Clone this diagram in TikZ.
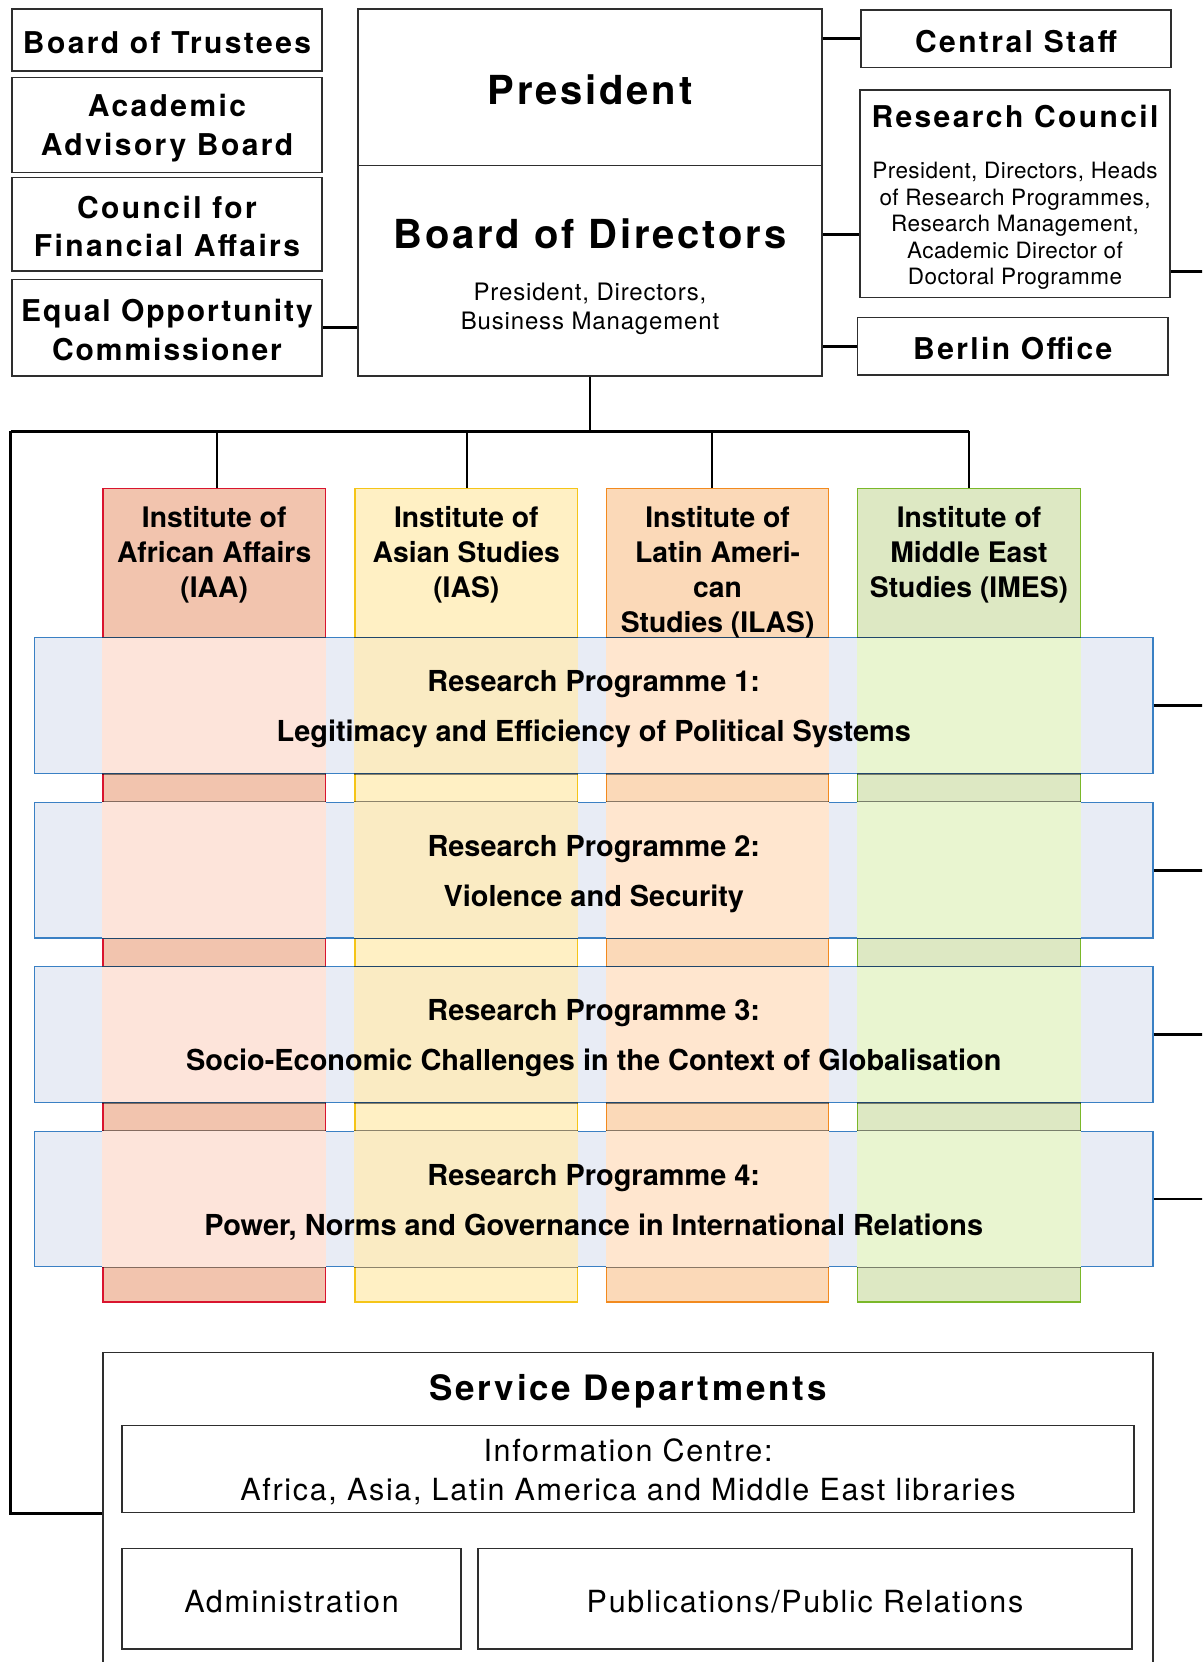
\documentclass[tikz,border=0pt]{standalone}
\usepackage{fontspec}
\setmainfont{TeX Gyre Heros}
\newfontfamily\hdfont[LetterSpace=8]{TeX Gyre Heros}
\newfontfamily\hdBfont[LetterSpace=7]{TeX Gyre Heros}
\newfontfamily\hdEfont[LetterSpace=6.5]{TeX Gyre Heros}
\newfontfamily\ltAfont[LetterSpace=3.5]{TeX Gyre Heros}
\newfontfamily\ltBfont[LetterSpace=2]{TeX Gyre Heros}
\newfontfamily\ltCfont[LetterSpace=5.5]{TeX Gyre Heros}
\usetikzlibrary{calc}
\definecolor{bordergray}{HTML}{2E2E2E}
\definecolor{iaaF}{HTML}{F2C4AE}\definecolor{iaaD}{HTML}{D9142E}\definecolor{iaaL}{HTML}{FDE4DA}
\definecolor{iasF}{HTML}{FFF0C4}\definecolor{iasD}{HTML}{F5C518}\definecolor{iasL}{HTML}{FAEBC3}
\definecolor{ilasF}{HTML}{FBD9B8}\definecolor{ilasD}{HTML}{F28A1E}\definecolor{ilasL}{HTML}{FFE6CF}
\definecolor{imesF}{HTML}{DDE8C3}\definecolor{imesD}{HTML}{7AB829}\definecolor{imesL}{HTML}{E9F5D0}
\definecolor{rpF}{HTML}{E8ECF5}\definecolor{rpD}{HTML}{3A80C4}
\begin{document}
\begin{tikzpicture}[x=1pt,y=-1pt,
  box/.style={draw=bordergray, line width=1.3pt, inner sep=0pt},
  tx/.style={inner sep=0pt, align=center},
  hdA/.style={tx, font=\hdfont\bfseries\fontsize{30pt}{38.5pt}\selectfont},
  hdE/.style={tx, font=\hdEfont\bfseries\fontsize{30pt}{38.5pt}\selectfont},
  hdB/.style={tx, font=\hdBfont\bfseries\fontsize{40pt}{48pt}\selectfont},
  hdC/.style={tx, font=\hdfont\bfseries\fontsize{35pt}{40pt}\selectfont},
  ltA/.style={tx, font=\ltAfont\fontsize{24pt}{29pt}\selectfont},
  ltB/.style={tx, font=\ltBfont\fontsize{22.5pt}{26.5pt}\selectfont},
  ltC/.style={tx, font=\ltCfont\fontsize{30.5pt}{39pt}\selectfont},
  conn/.style={line width=2.6pt, draw=black},
  drop/.style={line width=2pt, draw=black},
  inst/.style={line width=1.2pt, minimum width=222.5pt, minimum height=813.5pt, inner sep=0pt},
  insttext/.style={tx, font=\bfseries\fontsize{28.3pt}{35pt}\selectfont, anchor=north},
  rpbox/.style={draw=rpD, fill=rpF, line width=1.2pt, minimum width=1118.5pt, minimum height=135.6pt, inner sep=0pt},
  rptext/.style={tx, font=\bfseries\fontsize{28.9pt}{50pt}\selectfont},
  overline/.style={draw=black, opacity=0.45, line width=1.2pt}]
\useasboundingbox (0,0) rectangle (1202,1662);
\clip (0,0) rectangle (1202,1662);
\fill[white] (0,0) rectangle (1202,1662);

% left column boxes
\node[box, minimum width=310pt, minimum height=62pt] (bot) at (167,40) {};
\node[hdA] (bott) at ($(bot.center)+(0,2.5)$) {Board of Trustees};
\node[box, minimum width=310pt, minimum height=95.4pt] (aab) at (167,125) {};
\node[hdA] (aabt) at ($(aab.center)+(0,3)$) {Academic\\Advisory Board};
\node[box, minimum width=310pt, minimum height=93.7pt] (cfa) at (167,224.2) {};
\node[hdA] (cfat) at ($(cfa.center)+(0,2.5)$) {Council for\\Financial Affairs};
\node[box, minimum width=310pt, minimum height=96.7pt] (eoc) at (167,327.7) {};
\node[hdE] (eoct) at ($(eoc.center)+(0,2.5)$) {Equal Opportunity\\Commissioner};

% centre
\node[box, minimum width=464pt, minimum height=156.7pt] (pres) at (590,87.3) {};
\node[hdB] (prest) at ($(pres.center)+(0,2.5)$) {President};
\node[box, minimum width=464pt, minimum height=210.3pt] (bod) at (590,270.9) {};
\node[hdB] (bodt) at (590,234) {Board of Directors};
\node[ltA] (bods) at (590,309) {President, Directors,\\Business Management};

% right column
\node[box, minimum width=310pt, minimum height=57.7pt] (cs) at (1016,38.8) {};
\node[hdA] (cst) at ($(cs.center)+(0,2.5)$) {Central Staff};
\node[box, minimum width=310pt, minimum height=207.3pt] (rc) at (1015,193.7) {};
\node[hdA] (rct) at (1015,116.7) {Research Council};
\node[ltB] (rcs) at (1015,226) {President, Directors, Heads\\of Research Programmes,\\Research Management,\\Academic Director of\\Doctoral Programme};
\node[box, minimum width=310.4pt, minimum height=57.7pt] (bo) at (1012.8,346.2) {};
\node[hdA] (bot2) at ($(bo.center)+(0,2.5)$) {Berlin Office};

% top connectors
\draw[conn] (eoc.east) -- (eoc.east -| bod.west);
\draw[conn] (pres.east |- cs.west) -- (cs.west);
\path ($(rc.north west)!0.695!(rc.south west)$) coordinate (rcjoin);
\draw[conn] (rcjoin -| bod.east) -- (rcjoin);
\draw[conn] (bod.east |- bo.west) -- (bo.west);
\path ($(rc.north east)!0.872!(rc.south east)$) coordinate (rcout);
\coordinate (edge) at (1215,0);
\draw[conn] (rcout) -- (rcout -| edge);

% institutes
\node[inst, draw=iaaD, fill=iaaF] (iaa) at (214.2,895.3) {};
\node[inst, draw=iasD, fill=iasF] (ias) at (466.3,895.3) {};
\node[inst, draw=ilasD, fill=ilasF] (ilas) at (717.6,895.3) {};
\node[inst, draw=imesD, fill=imesF] (imes) at (969,895.3) {};

% bus
\coordinate (busL) at (10.7,431);
\draw[conn] (bod.south) -- (bod.south |- busL);
\draw[conn, line width=3pt] (busL) -- (busL -| imes.north);
\draw[drop] ([xshift=3pt]iaa.north |- busL) -- ([xshift=3pt]iaa.north);
\draw[drop] ([xshift=1pt]ias.north |- busL) -- ([xshift=1pt]ias.north);
\draw[drop] ([xshift=-5.5pt]ilas.north |- busL) -- ([xshift=-5.5pt]ilas.north);
\draw[drop] (imes.north |- busL) -- (imes.north);

% research programmes
\foreach \k/\yy in {1/705.5, 2/870.2, 3/1034.6, 4/1198.9}{
  \node[rpbox] (rp\k) at (593.8,\yy) {};
}
\foreach \k in {1,...,4}{
  \foreach \i/\c in {iaa/iaaL, ias/iasL, ilas/ilasL, imes/imesL}{
    \fill[\c] ([yshift=-0.6pt]\i.west |- rp\k.north) rectangle ([yshift=0.6pt]\i.east |- rp\k.south);
    \draw[overline] (\i.west |- rp\k.north) -- (\i.east |- rp\k.north);
    \draw[overline] (\i.west |- rp\k.south) -- (\i.east |- rp\k.south);
  }
  \draw[conn] (rp\k.east) -- (rp\k.east -| edge);
}

% institute texts
\node[insttext] (iaat) at (iaa.north |- 0,506.5) {Institute of\\African Affairs\\(IAA)};
\node[insttext] (iast) at (ias.north |- 0,506.5) {Institute of\\Asian Studies\\(IAS)};
\node[insttext] (ilast) at (ilas.north |- 0,506.5) {Institute of\\Latin Ameri-\\can\\Studies (ILAS)};
\node[insttext] (imest) at (imes.north |- 0,506.5) {Institute of\\Middle East\\Studies (IMES)};

% programme texts
\node[rptext] (rp1t) at ($(rp1.center)+(0,4)$) {Research Programme 1:\\Legitimacy and Efficiency of Political Systems};
\node[rptext] (rp2t) at ($(rp2.center)+(0,4)$) {Research Programme 2:\\Violence and Security};
\node[rptext] (rp3t) at ($(rp3.center)+(0,4)$) {Research Programme 3:\\Socio-Economic Challenges in the Context of Globalisation};
\node[rptext] (rp4t) at ($(rp4.center)+(0,4)$) {Research Programme 4:\\Power, Norms and Governance in International Relations};

% service departments
\node[box, minimum width=1050pt, minimum height=347pt] (sd) at (627.9,1526) {};
\node[hdC] (sdt) at (sd.north |- 0,1391) {Service Departments};
\node[box, minimum width=1012pt, minimum height=87pt] (info) at (628,1469.2) {};
\node[ltC] (infot) at ($(info.center)+(0,3)$) {Information Centre:\\Africa, Asia, Latin America and Middle East libraries};
\node[box, minimum width=339pt, minimum height=100.3pt] (adm) at (291.5,1598.9) {};
\node[ltC] (admt) at ($(adm.center)+(0,2.5)$) {Administration};
\node[box, minimum width=654pt, minimum height=100.3pt] (pub) at (805,1598.9) {};
\node[ltC] (pubt) at ($(pub.center)+(0,2.5)$) {Publications/Public Relations};

% left connector to service departments
\coordinate (lb) at (10.7,1513);
\draw[conn, line width=3pt] (busL) -- (lb) -- (lb -| sd.west);
\end{tikzpicture}
\end{document}
